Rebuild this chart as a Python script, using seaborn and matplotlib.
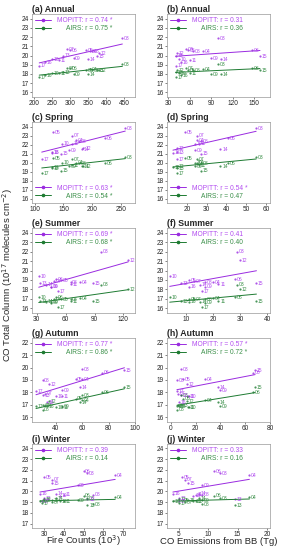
import numpy as np
import pandas as pd
import seaborn as sns
import matplotlib
matplotlib.use("Agg")
import matplotlib.pyplot as plt
from matplotlib.lines import Line2D

sns.set_style("ticks")
plt.rcParams['font.family'] = ['Liberation Sans', 'DejaVu Sans']

years = ['03', '04', '05', '06', '07', '08', '09', '10', '11', '12', '13', '14', '15', '16', '17']

# CO total columns (1e17 molecules cm-2) per season
annual_mopitt = [21.9, 20.5, 20.6, 20.6, 20.7, 20.5, 19.7, 19.6, 19.5, 20.3, 20.0, 19.6, 19.9, 19.3, 18.9]
annual_airs   = [19.1, 18.5, 18.4, 18.6, 18.6, 18.4, 18.0, 18.1, 18.1, 18.4, 18.2, 18.0, 18.4, 17.9, 17.7]
spring_mopitt = [23.8, 22.5, 23.4, 22.7, 23.0, 22.4, 21.4, 22.1, 22.1, 21.6, 21.2, 21.5, 21.0, 21.1, 20.4]
spring_airs   = [20.6, 20.0, 20.5, 19.9, 20.4, 19.9, 19.6, 20.0, 19.7, 19.6, 19.4, 19.6, 19.1, 19.5, 18.8]
summer_mopitt = [22.0, 18.8, 19.0, 19.1, 18.9, 18.8, 18.3, 19.4, 18.6, 21.1, 18.7, 18.5, 18.7, 18.3, 17.8]
summer_airs   = [18.5, 17.1, 17.0, 17.2, 17.0, 17.0, 16.6, 17.2, 16.8, 18.0, 16.8, 16.7, 16.8, 16.7, 16.1]
autumn_mopitt = [19.9, 19.1, 19.1, 19.6, 17.9, 19.0, 18.2, 17.7, 17.7, 18.7, 17.8, 18.4, 19.8, 17.2, 18.1]
autumn_airs   = [17.8, 17.4, 17.5, 18.0, 17.0, 16.6, 16.9, 16.8, 16.8, 17.3, 17.0, 17.2, 18.4, 16.9, 16.9]
winter_mopitt = [21.7, 21.5, 21.3, 21.9, 21.1, 19.7, 20.6, 19.6, 19.7, 19.4, 19.3, 19.8, 20.8, 19.8, 19.1]
winter_airs   = [19.4, 19.5, 19.2, 19.6, 19.0, 18.8, 19.2, 19.1, 19.1, 19.3, 18.7, 19.4, 19.2, 19.1, 18.9]

# Fire counts (10^3)
annual_fire = [445, 355, 345, 300, 292, 360, 310, 250, 270, 380, 280, 350, 375, 230, 215]
spring_fire = [258, 172, 132, 222, 165, 178, 160, 148, 165, 185, 130, 183, 145, 130, 112]
summer_fire = [97, 75, 55, 50, 48, 65, 45, 32, 65, 125, 33, 40, 88, 45, 52]
autumn_fire = [60, 60, 55, 75, 32, 30, 45, 40, 45, 35, 30, 58, 92, 33, 25]
winter_fire = [52, 66, 30, 50, 34, 55, 47, 38, 40, 30, 52, 36, 34, 28, 29]

# CO emissions from biomass burning (Tg)
annual_bb = [100, 78, 58, 147, 55, 65, 90, 45, 60, 42, 40, 103, 158, 48, 40]
spring_bb = [55, 25, 19, 41, 25, 27, 24, 24, 26, 15, 15, 37, 27, 13, 15]
summer_bb = [29, 20, 11, 28, 13, 17, 17, 4, 22, 30, 8, 15, 36, 11, 16]
autumn_bb = [8, 28, 10, 66, 6, 5, 40, 15, 14, 13, 8, 38, 68, 7, 5]
winter_bb = [12, 17, 5.5, 11, 6, 9, 9, 7.5, 8, 5, 14.5, 8.5, 6.5, 4, 5]

panel_titles = ['(a) Annual', '(b) Annual', '(c) Spring', '(d) Spring', '(e) Summer',
                '(f) Summer', '(g) Autumn', '(h) Autumn', '(i) Winter', '(j) Winter']
mopitt_r = ['0.74 *', '0.31', '0.63 *', '0.54 *', '0.69 *', '0.41', '0.77 *', '0.57 *', '0.39', '0.33']
airs_r   = ['0.75 *', '0.36', '0.54 *', '0.47', '0.68 *', '0.40', '0.86 *', '0.72 *', '0.14', '0.16']

xs = [annual_fire, annual_bb, spring_fire, spring_bb, summer_fire, summer_bb,
      autumn_fire, autumn_bb, winter_fire, winter_bb]
ys_m = [annual_mopitt, annual_mopitt, spring_mopitt, spring_mopitt, summer_mopitt, summer_mopitt,
        autumn_mopitt, autumn_mopitt, winter_mopitt, winter_mopitt]
ys_a = [annual_airs, annual_airs, spring_airs, spring_airs, summer_airs, summer_airs,
        autumn_airs, autumn_airs, winter_airs, winter_airs]

xlims = [(195, 480), (28, 172), (95, 275), (10, 62), (25, 132), (3, 41),
         (22, 100), (-3, 78), (24, 76), (3, 20.5)]
xticks = [[200, 250, 300, 350, 400, 450], [30, 60, 90, 120, 150], [100, 150, 200, 250],
          [20, 30, 40, 50, 60], [30, 60, 90, 120], [10, 20, 30, 40], [40, 60, 80, 100],
          [0, 20, 40, 60, 80], [30, 40, 50, 60, 70], [5, 10, 15, 20]]
ylims = [(15.5, 24.5)] * 6 + [(15.6, 22.4)] * 2 + [(16.6, 24.4)] * 2
yticks = [list(range(16, 25))] * 6 + [list(range(16, 23))] * 2 + [list(range(17, 25))] * 2
leg_loc = ['upper left', 'upper left', 'lower left', 'lower left', 'upper left',
           'upper left', 'upper left', 'upper left', 'upper left', 'upper left']

PURPLE = '#9a2be0'
PURPLE_T = '#b24cf0'
GREEN = '#1e7b32'
GREEN_T = '#3a8f48'

W, H = 283, 550
fig = plt.figure(figsize=(W / 100, H / 100), dpi=100)
rows_px = [(14, 97), (122, 203), (228, 313), (338, 422), (444, 528)]
cols_px = [(32, 135), (167, 270)]

for i in range(10):
    r, c = divmod(i, 2)
    y0, y1 = rows_px[r]
    x0, x1 = cols_px[c]
    ax = fig.add_axes([x0 / W, 1 - y1 / H, (x1 - x0) / W, (y1 - y0) / H])
    df = pd.DataFrame({'x': xs[i], 'm': ys_m[i], 'a': ys_a[i], 'yr': years})
    sns.regplot(data=df, x='x', y='m', ax=ax, ci=None, color=PURPLE,
                scatter_kws={'s': 2.5, 'linewidths': 0}, line_kws={'lw': 0.7})
    sns.regplot(data=df, x='x', y='a', ax=ax, ci=None, color=GREEN,
                scatter_kws={'s': 2.5, 'linewidths': 0}, line_kws={'lw': 0.7})
    for _, row in df.iterrows():
        ax.annotate(row['yr'], (row['x'], row['m']), xytext=(1.2, -1.3), textcoords='offset points',
                    fontsize=3.6, color=PURPLE_T)
        ax.annotate(row['yr'], (row['x'], row['a']), xytext=(1.2, -1.3), textcoords='offset points',
                    fontsize=3.6, color=GREEN_T)
    ax.set_xlim(*xlims[i])
    ax.set_ylim(*ylims[i])
    ax.set_xticks(xticks[i])
    ax.set_yticks(yticks[i])
    ax.set_xlabel('')
    ax.set_ylabel('')
    ax.tick_params(labelsize=4.7, length=1.5, width=0.4, pad=0.8)
    for s in ax.spines.values():
        s.set_color('#999999')
        s.set_linewidth(0.5)
    ax.set_title(panel_titles[i], loc='left', fontsize=6.3, fontweight='bold', pad=1.0)
    handles = [Line2D([], [], color=PURPLE, marker='o', markersize=1.6, lw=0.7),
               Line2D([], [], color=GREEN, marker='o', markersize=1.6, lw=0.7)]
    leg = ax.legend(handles, ['MOPITT: r = ' + mopitt_r[i], '     AIRS: r = ' + airs_r[i]],
                    loc=leg_loc[i], frameon=False, fontsize=4.8, handlelength=2.4,
                    handletextpad=0.8, labelspacing=0.15, borderpad=0.3, borderaxespad=0.2)
    leg.get_texts()[0].set_color(PURPLE_T)
    leg.get_texts()[1].set_color(GREEN_T)

fig.text(8 / W, 0.5, 'CO Total Column (10$^{17}$ molecules cm$^{-2}$)', rotation=90,
         ha='center', va='center', fontsize=6.8)
fig.text((32 + 135) / 2 / W, 1 - 541 / H, 'Fire Counts (10$^{3}$)', ha='center', va='center', fontsize=6.8)
fig.text((167 + 270) / 2 / W, 1 - 541 / H, 'CO Emissions from BB (Tg)', ha='center', va='center', fontsize=6.8)

fig.savefig('out.png', dpi=100)
